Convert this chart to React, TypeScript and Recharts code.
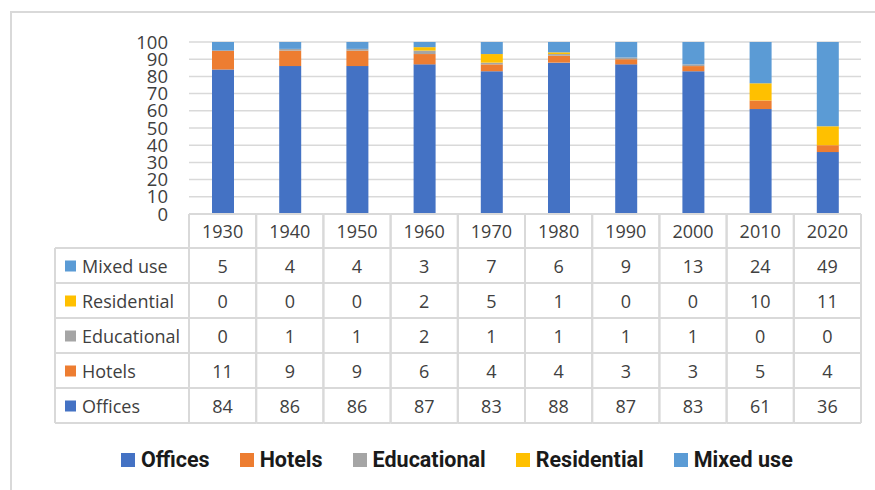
import React from 'react';
import { BarChart, Bar, XAxis, YAxis, CartesianGrid, Legend } from 'recharts';

const years = ['1930', '1940', '1950', '1960', '1970', '1980', '1990', '2000', '2010', '2020'];
const offices = [84, 86, 86, 87, 83, 88, 87, 83, 61, 36];
const hotels = [11, 9, 9, 6, 4, 4, 3, 3, 5, 4];
const educational = [0, 1, 1, 2, 1, 1, 1, 1, 0, 0];
const residential = [0, 0, 0, 2, 5, 1, 0, 0, 10, 11];
const mixedUse = [5, 4, 4, 3, 7, 6, 9, 13, 24, 49];
const yTicks = [0, 10, 20, 30, 40, 50, 60, 70, 80, 90, 100];

const series = [
  { key: 'offices', name: 'Offices', color: '#4472C4' },
  { key: 'hotels', name: 'Hotels', color: '#ED7D31' },
  { key: 'educational', name: 'Educational', color: '#A5A5A5' },
  { key: 'residential', name: 'Residential', color: '#FFC000' },
  { key: 'mixedUse', name: 'Mixed use', color: '#5B9BD5' },
];
const tableOrder = ['mixedUse', 'residential', 'educational', 'hotels', 'offices'];

const data = years.map((year, i) => ({
  year,
  offices: offices[i],
  hotels: hotels[i],
  educational: educational[i],
  residential: residential[i],
  mixedUse: mixedUse[i],
}));

const HEADER_H = 34;
const ROW_H = 35;
const LABEL_W = 134;
const LINE = '#d9d9d9';
const TEXT = '#404040';
const FONT = '"Open Sans", sans-serif';

function TableTick(props: any) {
  const { x, y, payload, index, width, visibleTicksCount } = props;
  const half = payload && payload.offset ? payload.offset : width / visibleTicksCount / 2;
  const left = x - half;
  const right = x + half;
  const row: any = data[index];
  const bottom = y + HEADER_H + ROW_H * tableOrder.length;
  const els: any[] = [];
  els.push(<line key="ht" x1={left} x2={right} y1={y} y2={y} stroke={LINE} strokeWidth={2} />);
  els.push(<line key="vr" x1={right} x2={right} y1={y} y2={bottom} stroke={LINE} strokeWidth={2} />);
  els.push(<line key="vl" x1={left} x2={left} y1={y} y2={bottom} stroke={LINE} strokeWidth={2} />);
  els.push(
    <text key="yr" x={x} y={y + HEADER_H / 2} textAnchor="middle" dominantBaseline="central" fontSize={18} fontFamily={FONT} fill={TEXT}>
      {payload.value}
    </text>
  );
  tableOrder.forEach((k, r) => {
    const top = y + HEADER_H + r * ROW_H;
    els.push(<line key={'h' + r} x1={index === 0 ? left - LABEL_W : left} x2={right} y1={top} y2={top} stroke={LINE} strokeWidth={2} />);
    els.push(
      <text key={'v' + r} x={x} y={top + ROW_H / 2} textAnchor="middle" dominantBaseline="central" fontSize={18} fontFamily={FONT} fill={TEXT}>
        {row[k]}
      </text>
    );
    if (index === 0) {
      const s = series.find((q) => q.key === k)!;
      els.push(<rect key={'s' + r} x={left - LABEL_W + 10} y={top + ROW_H / 2 - 5} width={11} height={11} fill={s.color} />);
      els.push(
        <text key={'l' + r} x={left - LABEL_W + 27} y={top + ROW_H / 2} dominantBaseline="central" fontSize={18} fontFamily={FONT} fill={TEXT}>
          {s.name}
        </text>
      );
    }
  });
  els.push(<line key="hb" x1={index === 0 ? left - LABEL_W : left} x2={right} y1={bottom} y2={bottom} stroke={LINE} strokeWidth={2} />);
  if (index === 0) {
    els.push(<line key="vll" x1={left - LABEL_W} x2={left - LABEL_W} y1={y + HEADER_H} y2={bottom} stroke={LINE} strokeWidth={2} />);
  }
  return <g>{els}</g>;
}

function LegendContent() {
  return (
    <div style={{ display: 'flex', alignItems: 'center', fontFamily: 'Roboto, sans-serif', fontWeight: 700, fontSize: 21.5, lineHeight: '26px', color: '#1a1a1a' }}>
      {series.map((s) => (
        <div key={s.key} style={{ display: 'flex', alignItems: 'center', marginRight: 30 }}>
          <span style={{ display: 'inline-block', width: 14, height: 14, background: s.color, marginRight: 6 }} />
          <span>{s.name}</span>
        </div>
      ))}
    </div>
  );
}

export default function App() {
  return (
    <div style={{ position: 'absolute', left: 0, top: 0, width: 875, height: 490, overflow: 'hidden', background: '#fff' }}>
      <div style={{ position: 'absolute', left: 10, top: 11, width: 880, height: 500, border: '2px solid #d9d9d9', boxSizing: 'border-box' }} />
      <div style={{ position: 'absolute', left: 0, top: 0 }}>
        <BarChart width={875} height={490} data={data} margin={{ top: 42, right: 14, bottom: 0, left: 0 }} barSize={22}>
          <CartesianGrid vertical={false} stroke={LINE} strokeWidth={1.5} />
          <YAxis
            type="number"
            domain={[0, 100]}
            ticks={yTicks}
            width={189}
            axisLine={false}
            tickLine={false}
            tickSize={0}
            tickMargin={21}
            interval={0}
            tick={{ fontSize: 18.5, fontFamily: FONT, fill: TEXT }}
          />
          <XAxis
            dataKey="year"
            height={276}
            axisLine={false}
            tickLine={false}
            tickSize={0}
            tickMargin={0}
            interval={0}
            tick={<TableTick />}
          />
          <Legend verticalAlign="middle" align="center" layout="horizontal" content={<LegendContent />} wrapperStyle={{ top: 447, left: 121, width: 740 }} />
          {series.map((s) => (
            <Bar key={s.key} dataKey={s.key} name={s.name} stackId="a" fill={s.color} isAnimationActive={false} />
          ))}
        </BarChart>
      </div>
    </div>
  );
}
